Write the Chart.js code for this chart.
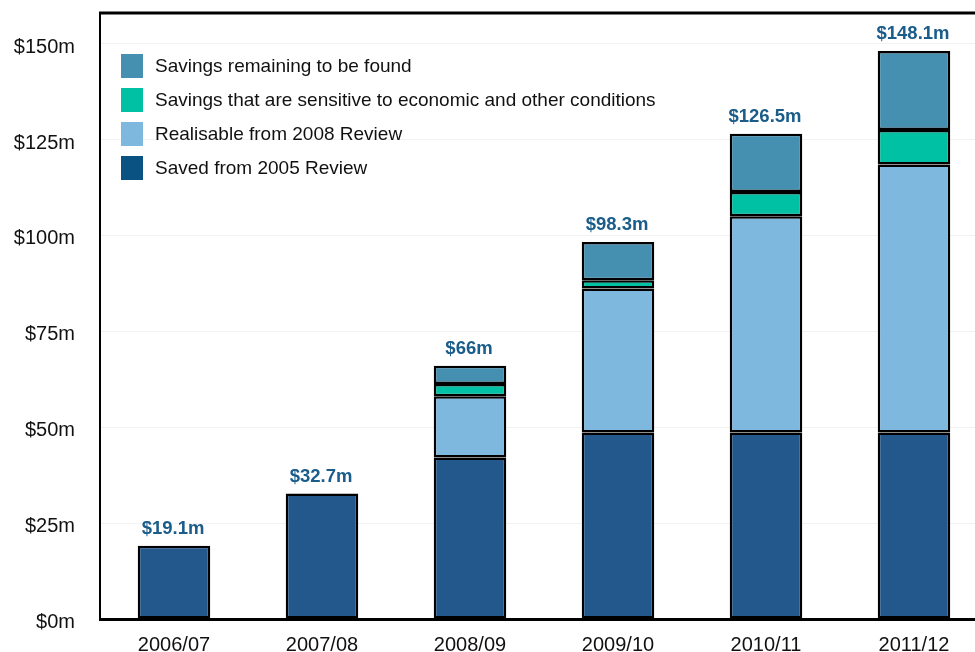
<!DOCTYPE html>
<html>
<head>
<meta charset="utf-8">
<script src="https://cdn.jsdelivr.net/npm/chart.js@4.4.1/dist/chart.umd.min.js"></script>
<style>
  html,body{margin:0;padding:0;background:#fff;overflow:hidden;}
  #wrap{position:relative;width:990px;height:652px;}
  #chart{display:block;}
  #legend{position:absolute;left:121px;top:49px;font-family:"Liberation Sans",Arial,sans-serif;font-size:19px;color:#111;}
  #legend .row{display:flex;align-items:center;height:34px;}
  #legend .sw{width:22px;height:24px;margin-right:12px;}
</style>
</head>
<body>
<div id="wrap">
  <canvas id="chart" width="990" height="652"></canvas>
  <div id="legend"></div>
</div>
<script>
const years = ['2006/07','2007/08','2008/09','2009/10','2010/11','2011/12'];

// $m per year, bottom of the stack first
const saved2005      = [19.1, 32.7, 42.1, 48.6, 48.6, 48.6];
const realisable2008 = [null, null, 16.0, 37.6, 56.4, 69.9];
const sensitive      = [null, null, 3.2, 2.1, 6.3, 9.0];
const remaining      = [null, null, 4.7, 10.0, 15.2, 20.6];

const yTicks = [0, 25, 50, 75, 100, 125, 150];

const FONT = '"Liberation Sans", Arial, sans-serif';

const series = [
  { label:'Saved from 2005 Review', data:saved2005, color:'#23588c', swatch:'#0a5282' },
  { label:'Realisable from 2008 Review', data:realisable2008, color:'#7fb8de', swatch:'#7fb8de' },
  { label:'Savings that are sensitive to economic and other conditions', data:sensitive, color:'#00c1a3', swatch:'#00c1a3' },
  { label:'Savings remaining to be found', data:remaining, color:'#4590b0', swatch:'#4590b0' },
];

// legend, top row = top of the stack
document.getElementById('legend').innerHTML = series.slice().reverse().map(s=>
  `<div class="row"><div class="sw" style="background:${s.swatch}"></div><span>${s.label}</span></div>`
).join('');

const totalLabels = {
  id:'totalLabels',
  afterDatasetsDraw(chart){
    const {ctx, scales:{x,y}} = chart;
    ctx.save();
    ctx.font = `bold 18.5px ${FONT}`;
    ctx.fillStyle = '#1a5c8a';
    ctx.textAlign = 'center';
    ctx.textBaseline = 'middle';
    years.forEach((yr,i)=>{
      const total = series.reduce((s,d)=>s+(d.data[i]||0),0);
      const txt = '$' + (+total.toFixed(1)) + 'm';
      ctx.fillText(txt, x.getPixelForValue(i) - 1, y.getPixelForValue(total) - 17);
    });
    ctx.restore();
  }
};

const topBorder = {
  id:'topBorder',
  afterDraw(chart){
    const {ctx, chartArea:a} = chart;
    ctx.save();
    ctx.strokeStyle = '#000';
    ctx.lineWidth = 3;
    ctx.beginPath();
    ctx.moveTo(a.left - 1, a.top);
    ctx.lineTo(a.right, a.top);
    ctx.stroke();
    ctx.restore();
  }
};

new Chart(document.getElementById('chart'), {
  type:'bar',
  data:{
    labels: years,
    datasets: series.map(s=>({
      label: s.label,
      data: s.data,
      backgroundColor: s.color,
      borderColor: '#000',
      borderWidth: 2.5,
      borderSkipped: false,
      barPercentage: 0.49,
      categoryPercentage: 1,
    }))
  },
  options:{
    responsive:false,
    animation:false,
    layout:{ padding:{ top:13, right:2, left:0, bottom:0 } },
    plugins:{ legend:{ display:false }, tooltip:{ enabled:false } },
    scales:{
      x:{
        stacked:true,
        grid:{ display:false, drawTicks:false },
        border:{ color:'#000', width:3 },
        ticks:{ color:'#111', font:{ family:FONT, size:20 }, padding:14 },
        afterFit(s){ s.height = 33; s.paddingLeft = 0; s.paddingRight = 0; }
      },
      y:{
        stacked:true,
        min:0, max:158,
        afterBuildTicks(s){ s.ticks = yTicks.map(v=>({ value:v })); },
        grid:{ color:'#f2f2f2', drawTicks:false },
        border:{ color:'#000', width:2 },
        ticks:{ color:'#111', font:{ family:FONT, size:20 }, padding:25, labelOffset:3.5, callback:v=>'$' + v + 'm' },
        afterFit(s){ s.width = 100; s.paddingTop = 0; s.paddingBottom = 0; }
      }
    }
  },
  plugins:[totalLabels, topBorder]
});
</script>
</body>
</html>
